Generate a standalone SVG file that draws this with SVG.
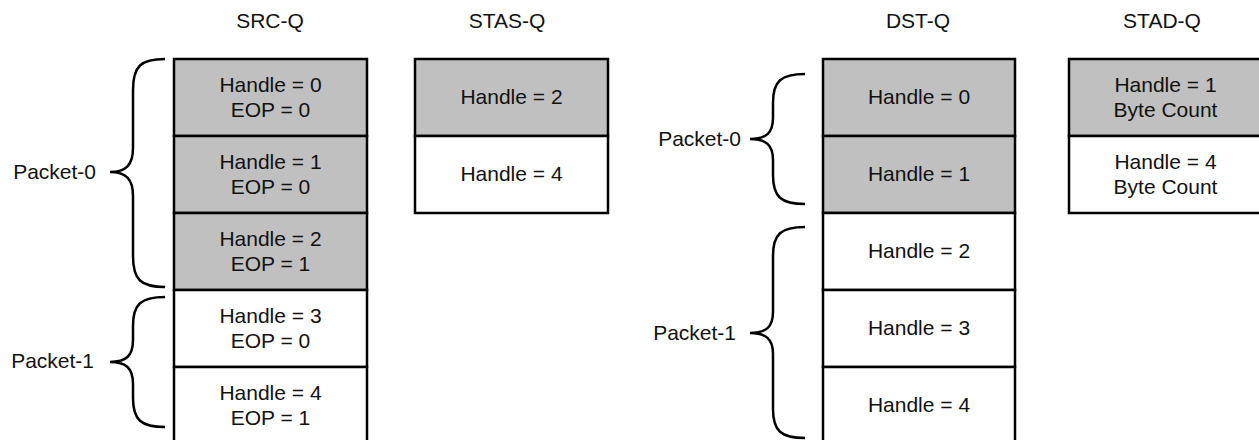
<svg xmlns="http://www.w3.org/2000/svg" width="1259" height="440" viewBox="0 0 1259 440">
<style>
text{font-family:"Liberation Sans",Arial,sans-serif;font-size:21px;fill:#111;}
.c{text-anchor:middle;}
.e{text-anchor:end;}
.cell{stroke:#000;stroke-width:2.5;}
.g{fill:#c0c0c0;}
.w{fill:#fff;}
.brace{fill:none;stroke:#000;stroke-width:2.5;}
</style>
<rect width="1259" height="440" fill="#fff"/>
<g id="titles">
<text class="c" x="270" y="28">SRC-Q</text>
<text class="c" x="507" y="28">STAS-Q</text>
<text class="c" x="918" y="28">DST-Q</text>
<text class="c" x="1162" y="28">STAD-Q</text>
</g>
<g id="src-q">
<rect class="cell g" x="174" y="59" width="193" height="77"/>
<rect class="cell g" x="174" y="136" width="193" height="77"/>
<rect class="cell g" x="174" y="213" width="193" height="77"/>
<rect class="cell w" x="174" y="290" width="193" height="77"/>
<rect class="cell w" x="174" y="367" width="193" height="90"/>
<text class="c" x="270.5" y="92">Handle = 0</text><text class="c" x="270.5" y="117">EOP = 0</text>
<text class="c" x="270.5" y="169">Handle = 1</text><text class="c" x="270.5" y="194">EOP = 0</text>
<text class="c" x="270.5" y="246">Handle = 2</text><text class="c" x="270.5" y="271">EOP = 1</text>
<text class="c" x="270.5" y="323">Handle = 3</text><text class="c" x="270.5" y="348">EOP = 0</text>
<text class="c" x="270.5" y="400">Handle = 4</text><text class="c" x="270.5" y="425">EOP = 1</text>
</g>
<g id="stas-q">
<rect class="cell g" x="415" y="59" width="193" height="77"/>
<rect class="cell w" x="415" y="136" width="193" height="77"/>
<text class="c" x="511.5" y="104">Handle = 2</text>
<text class="c" x="511.5" y="181">Handle = 4</text>
</g>
<g id="dst-q">
<rect class="cell g" x="823" y="59" width="192" height="77"/>
<rect class="cell g" x="823" y="136" width="192" height="77"/>
<rect class="cell w" x="823" y="213" width="192" height="77"/>
<rect class="cell w" x="823" y="290" width="192" height="77"/>
<rect class="cell w" x="823" y="367" width="192" height="90"/>
<text class="c" x="919" y="104">Handle = 0</text>
<text class="c" x="919" y="181">Handle = 1</text>
<text class="c" x="919" y="258">Handle = 2</text>
<text class="c" x="919" y="335">Handle = 3</text>
<text class="c" x="919" y="412">Handle = 4</text>
</g>
<g id="stad-q">
<rect class="cell g" x="1069" y="59" width="193" height="77"/>
<rect class="cell w" x="1069" y="136" width="193" height="77"/>
<text class="c" x="1165.5" y="92">Handle = 1</text><text class="c" x="1165.5" y="117">Byte Count</text>
<text class="c" x="1165.5" y="169">Handle = 4</text><text class="c" x="1165.5" y="194">Byte Count</text>
</g>
<g id="connectors">
<path class="brace" d="M165,59 C141,59 133,66 133,90 L133,148 C133,165 126,172 110,172 C126,172 133,179 133,196 L133,256 C133,280 141,287 165,287"/>
<path class="brace" d="M165,297 C141,297 133,304 133,326 L133,340 C133,356 126,362 110,362 C126,362 133,368 133,384 L133,398 C133,420 141,427 165,427"/>
<path class="brace" d="M805,74 C781,74 773,81 773,103 L773,118 C773,133 766,139 750,139 C766,139 773,145 773,160 L773,175 C773,197 781,204 805,204"/>
<path class="brace" d="M805,227 C781,227 773,234 773,256 L773,312 C773,327 766,333 750,333 C766,333 773,339 773,354 L773,409 C773,431 781,438 805,438"/>
</g>
<g id="labels">
<text class="e" x="96" y="179">Packet-0</text>
<text class="e" x="94" y="368">Packet-1</text>
<text class="e" x="741" y="146">Packet-0</text>
<text class="e" x="736" y="340">Packet-1</text>
</g>
</svg>
